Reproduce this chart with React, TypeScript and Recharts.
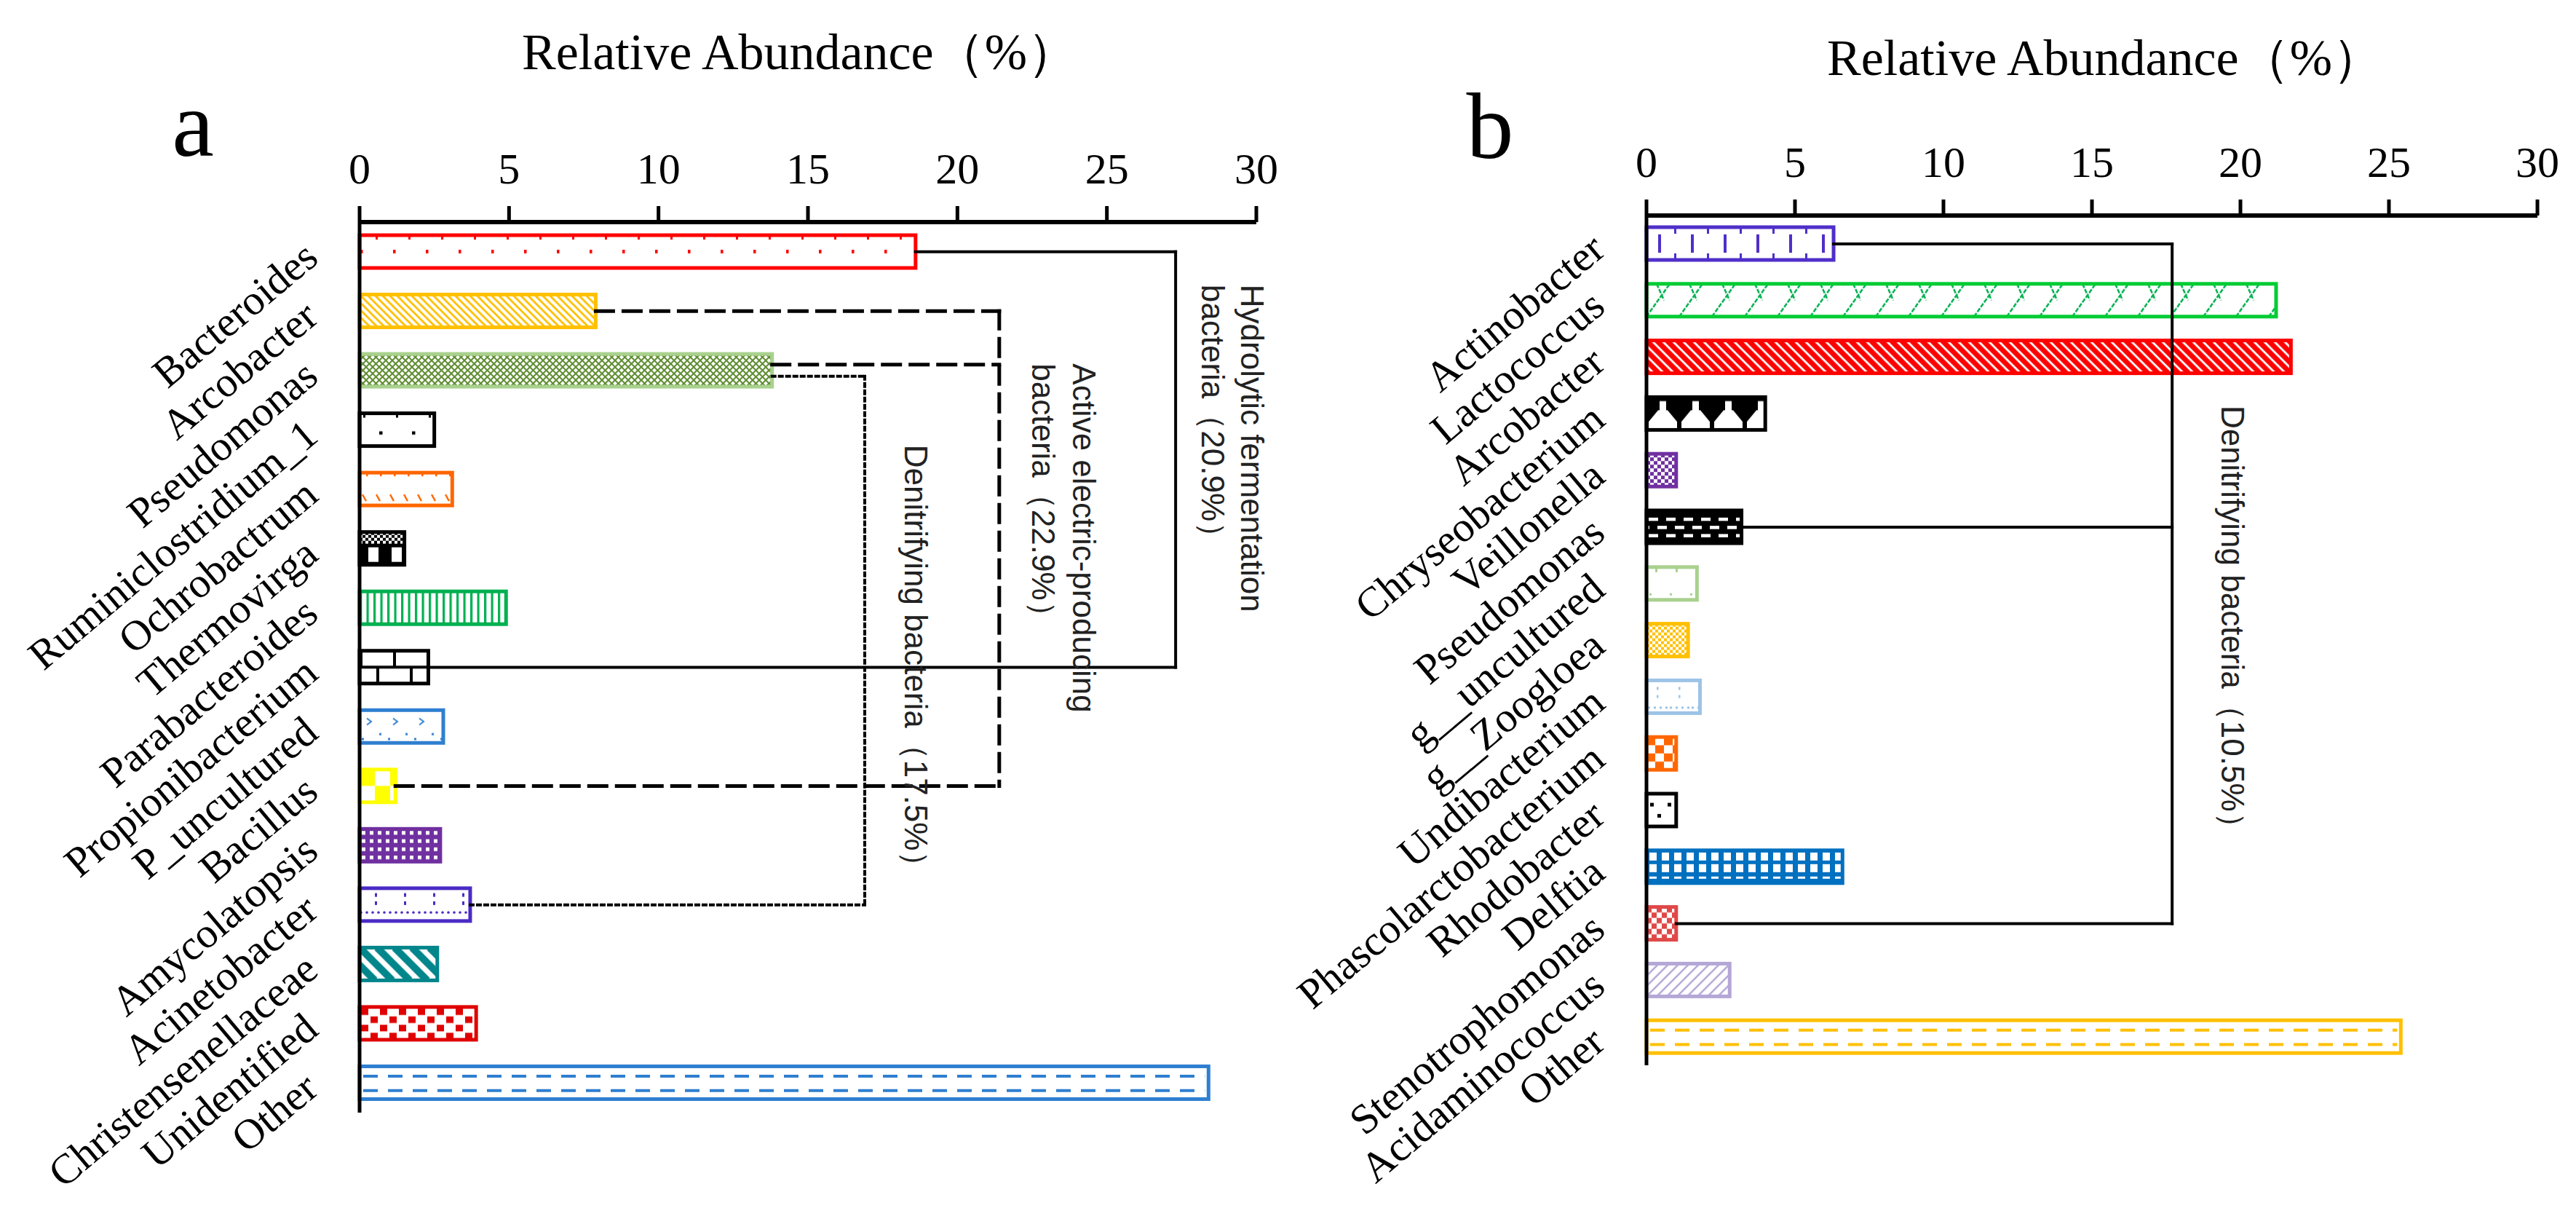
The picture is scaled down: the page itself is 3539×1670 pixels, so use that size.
import React from 'react';
import { BarChart, Bar, XAxis, YAxis, ReferenceLine } from 'recharts';

const SERIF = '"Liberation Serif", "Times New Roman", serif';
const SANS = '"Liberation Sans", Arial, sans-serif';

// relative abundance axis (%)
const ticks = [0, 5, 10, 15, 20, 25, 30];

// panel a
const generaA = [
  'Bacteroides', 'Arcobacter', 'Pseudomonas', 'Ruminiclostridium_1', 'Ochrobactrum',
  'Thermovirga', 'Parabacteroides', 'Propionibacterium', 'P_uncultured', 'Bacillus',
  'Amycolatopsis', 'Acinetobacter', 'Christensenellaceae', 'Unidentified', 'Other',
];
const abundanceA = [18.6, 7.9, 13.8, 2.5, 3.1, 1.5, 4.9, 2.3, 2.8, 1.2, 2.7, 3.7, 2.6, 3.9, 28.4];

// panel b
const generaB = [
  'Actinobacter', 'Lactococcus', 'Arcobacter', 'Chryseobacterium', 'Veillonella',
  'Pseudomonas', 'g__uncultured', 'g__Zoogloea', 'Undibacterium', 'Phascolarctobacterium',
  'Rhodobacter', 'Delftia', 'Stenotrophomonas', 'Acidaminococcus', 'Other',
];
const abundanceB = [6.3, 21.2, 21.7, 4.0, 1.0, 3.2, 1.7, 1.4, 1.8, 1.0, 1.0, 6.6, 1.0, 2.8, 25.4];

// functional groups, joined by a bracket at `at` (%)
type Group = { label: string[]; members: string[]; at: number };
const groupsA: Group[] = [
  { label: ['Hydrolytic fermentation', 'bacteria（20.9%）'], members: ['Bacteroides', 'Propionibacterium'], at: 27.3 },
  { label: ['Active electric-producing', 'bacteria（22.9%）'], members: ['Arcobacter', 'Pseudomonas', 'Bacillus'], at: 21.4 },
  { label: ['Denitrifying bacteria（17.5%）'], members: ['Pseudomonas', 'Acinetobacter'], at: 16.9 },
];
const groupsB: Group[] = [
  { label: ['Denitrifying bacteria（10.5%）'], members: ['Actinobacter', 'Pseudomonas', 'Stenotrophomonas'], at: 17.7 },
];

// bracket styling (line style + where the rotated caption sits)
type GroupLook = { dash?: string; sw: number; dx: number; dy: number; gap: number; shift: Record<string, number> };
const groupLooksA: GroupLook[] = [
  { sw: 4, dx: 90, dy: 45, gap: 54, shift: {} },
  { dash: '24 14', sw: 5, dx: 101, dy: 72, gap: 56, shift: { Pseudomonas: -8 } },
  { dash: '4 6', sw: 4, dx: 55, dy: 102, gap: 0, shift: { Pseudomonas: 8 } },
];
const groupLooksB: GroupLook[] = [{ sw: 4, dx: 68, dy: 222, gap: 0, shift: {} }];

// ---------- bar fill patterns ----------
type Look = {
  stroke: string;
  w: number;
  th?: number;
  tile?: (w: number, h: number) => React.ReactNode;
  overlay?: (x: number, y: number, w: number, h: number) => React.ReactNode;
};

const diag = (w: number, h: number, color: string, sw: number, dir: 1 | -1) => {
  const d: string[] = [];
  for (let k = -Math.ceil(h / w) - 1; k <= 1; k++) {
    const x0 = k * w;
    d.push(dir === 1 ? `M${x0},0 L${x0 + h},${h}` : `M${x0},${h} L${x0 + h},0`);
  }
  return <path d={d.join(' ')} stroke={color} strokeWidth={sw} fill="none" />;
};

const checker = (s: number, color: string, bg = '#fff') => (
  <>
    <rect x={0} y={0} width={2 * s} height={2 * s} fill={bg} />
    <rect x={0} y={0} width={s} height={s} fill={color} />
    <rect x={s} y={s} width={s} height={s} fill={color} />
  </>
);

const dashes = (color: string) => (x: number, y: number, w: number, h: number) => (
  <g stroke={color} strokeWidth={4} strokeDasharray="20 14">
    <line x1={x + 5} y1={y + h * 0.3} x2={x + w - 5} y2={y + h * 0.3} />
    <line x1={x + 5} y1={y + h * 0.74} x2={x + w - 5} y2={y + h * 0.74} />
  </g>
);

const thermo = (w: number, h: number) => {
  const cells: React.ReactNode[] = [];
  const top = 16;
  for (let i = 0; i < w / 4; i++)
    for (let j = 0; j < top / 4; j++)
      if ((i + j) % 2 === 0) cells.push(<rect key={`${i}-${j}`} x={i * 4} y={j * 4} width={4} height={4} fill="#000" />);
  return (
    <>
      {cells}
      <rect x={0} y={top} width={w} height={h - top} fill="#000" />
      <rect x={12} y={top + 5} width={14} height={h - top - 9} fill="#fff" />
    </>
  );
};

const looksA: Look[] = [
  { stroke: '#FF0000', w: 45, tile: (w, h) => (<g fill="#FF0000"><rect x={22} y={0} width={3} height={6} /><rect x={1} y={h / 2 - 2.5} width={3.5} height={5} /></g>) },
  { stroke: '#FFC000', w: 10, tile: (w, h) => diag(w, h, '#FFC000', 3, 1) },
  { stroke: '#A9D18E', w: 9, th: 9, tile: () => <path d="M0,0 L9,9 M9,0 L0,9" stroke="#5E8C31" strokeWidth={2} /> },
  { stroke: '#000', w: 45, tile: (w, h) => (<g fill="#000"><rect x={5} y={0} width={3} height={6} /><rect x={27} y={h * 0.55} width={4.5} height={4.5} /></g>) },
  { stroke: '#FF6600', w: 19, tile: (w, h) => (<><rect x={9} y={0} width={2.5} height={5} fill="#FF6600" /><path d={`M4,${h - 15} L9,${h - 6}`} stroke="#FF6600" strokeWidth={2.5} /></>) },
  { stroke: '#000', w: 32, tile: thermo },
  { stroke: '#00B050', w: 9.5, tile: (w, h) => <rect x={0} y={0} width={3.2} height={h} fill="#00B050" /> },
  { stroke: '#000', w: 46, tile: (w, h) => <path d={`M0,${h / 2} L${w},${h / 2} M2,0 L2,${h / 2} M25,${h / 2} L25,${h}`} stroke="#000" strokeWidth={4} /> },
  { stroke: '#2F7FD0', w: 36, tile: (w, h) => (<><path d={`M10,${h * 0.25} L16,${h * 0.35} L10,${h * 0.45}`} stroke="#2F7FD0" strokeWidth={2} fill="none" /><rect x={27} y={h * 0.7} width={3} height={3} fill="#2F7FD0" /><rect x={3} y={h * 0.85} width={3} height={3} fill="#2F7FD0" /></>) },
  { stroke: '#FFFF00', w: 42, tile: (w, h) => (<g fill="#FFFF00"><rect x={0} y={0} width={21} height={h / 2} /><rect x={21} y={h / 2} width={21} height={h / 2} /></g>) },
  { stroke: '#7030A0', w: 11, th: 11.25, tile: (w, h) => (<><rect width={w} height={h} fill="#7030A0" /><rect x={3} y={3} width={5} height={5} fill="#fff" /></>) },
  { stroke: '#4A2BC4', w: 40, tile: (w, h) => (<g fill="#4A2BC4">{[2, 10, 18, 26, 34].map((cx) => <circle key={cx} cx={cx} cy={h * 0.74} r={1.8} />)}<rect x={21} y={h * 0.15} width={3} height={5} /><rect x={21} y={h * 0.4} width={3} height={5} /></g>) },
  { stroke: '#00868B', w: 24, tile: (w, h) => diag(w, h, '#00868B', 10, 1) },
  { stroke: '#E00000', w: 26, th: 22.5, tile: () => (<g fill="#E00000"><rect x={2} y={2} width={10} height={9} /><rect x={15} y={13} width={10} height={9} /></g>) },
  { stroke: '#2F7FD0', w: 10, overlay: dashes('#2F7FD0') },
];

const looksB: Look[] = [
  { stroke: '#4F2FC9', w: 45, tile: (w, h) => (<g fill="#4F2FC9"><rect x={16} y={h * 0.22} width={4} height={h * 0.56} /><rect x={38} y={0} width={3} height={h * 0.2} /><rect x={38} y={h * 0.8} width={3} height={h * 0.2} /></g>) },
  { stroke: '#00CC33', w: 45, tile: (w, h) => <path d={`M0,${h} L32,0 M45,${h} L77,0 M-45,${h} L-13,0 M14,0 L24,${h * 0.5} M59,0 L69,${h * 0.5}`} stroke="#00B050" strokeWidth={2.5} strokeDasharray="6 2" fill="none" /> },
  { stroke: '#FF0000', w: 14, tile: (w, h) => diag(w, h, '#FF0000', 7, 1) },
  { stroke: '#000', w: 45, tile: (w, h) => (<><rect width={w} height={h} fill="#000" /><path d={`M3,${h} L3,${h * 0.75} L16,${h * 0.4} L18,${h * 0.4} L18,${h * 0.12} L27,${h * 0.12} L27,${h * 0.4} L29,${h * 0.4} L42,${h * 0.75} L42,${h} Z`} fill="#fff" /></>) },
  { stroke: '#7030A0', w: 10, th: 10, tile: () => checker(5, '#7030A0') },
  { stroke: '#000', w: 24, tile: (w, h) => (<><rect width={w} height={h} fill="#000" /><g fill="#fff"><rect x={3} y={h * 0.22} width={13} height={4.5} /><rect x={15} y={h * 0.47} width={9} height={4.5} /><rect x={0} y={h * 0.47} width={4} height={4.5} /><rect x={3} y={h * 0.72} width={13} height={4.5} /></g></>) },
  { stroke: '#A9D18E', w: 28, tile: (w, h) => (<g fill="#A9D18E"><rect x={12} y={2} width={3} height={5} /><rect x={4} y={h - 9} width={3} height={3} /></g>) },
  { stroke: '#FFC000', w: 8, th: 8, tile: () => checker(4, '#fff', '#FFC000') },
  { stroke: '#9DC3E6', w: 30, tile: (w, h) => (<g fill="#9DC3E6"><rect x={14} y={h * 0.2} width={2.5} height={4} /><rect x={14} y={h * 0.45} width={2.5} height={4} /><rect x={2} y={h * 0.8} width={3} height={3} /><rect x={10} y={h * 0.8} width={3} height={3} /><rect x={18} y={h * 0.8} width={3} height={3} /><rect x={26} y={h * 0.8} width={3} height={3} /></g>) },
  { stroke: '#FF6600', w: 24, th: 22.5, tile: () => (<><rect width={24} height={22.5} fill="#FF6600" /><rect x={12} y={0} width={12} height={11.25} fill="#fff" /><rect x={0} y={11.25} width={12} height={11.25} fill="#fff" /></>) },
  { stroke: '#000', w: 24, tile: (w, h) => (<g fill="#000"><rect x={5} y={h * 0.28} width={5} height={5} /><rect x={15} y={h * 0.62} width={5} height={5} /></g>) },
  { stroke: '#0070C0', w: 17, tile: (w, h) => (<><rect width={w} height={h} fill="#0070C0" /><g fill="#fff"><rect x={4} y={3} width={10} height={11} /><rect x={4} y={19} width={10} height={11} /><rect x={4} y={36} width={10} height={3} /></g></>) },
  { stroke: '#E04848', w: 14, th: 15, tile: () => (<><rect x={0} y={0} width={7} height={7.5} fill="#E04848" /><rect x={7} y={7.5} width={7} height={7.5} fill="#E04848" /></>) },
  { stroke: '#B4A7D6', w: 14, tile: (w, h) => diag(w, h, '#B4A7D6', 2.5, -1) },
  { stroke: '#FFC000', w: 10, overlay: dashes('#FFC000') },
];

const makeShape = (id: string, looks: Look[], names: string[]) => (props: any) => {
  const { x, y, width, height } = props;
  const index = typeof props.index === 'number' ? props.index : names.indexOf(props.payload?.name ?? props.name);
  const lk = looks[index];
  if (!lk || !(width > 0)) return <g />;
  const th = lk.th ?? height;
  const pid = `${id}-p${index}`;
  return (
    <g>
      {lk.tile && (
        <defs>
          <pattern id={pid} patternUnits="userSpaceOnUse" x={x} y={y} width={lk.w} height={th}>
            {lk.tile(lk.w, th)}
          </pattern>
        </defs>
      )}
      <rect x={x} y={y} width={width} height={height} fill={lk.tile ? `url(#${pid})` : '#fff'} />
      {lk.overlay && lk.overlay(x, y, width, height)}
      <rect x={x} y={y} width={width} height={height} fill="none" stroke={lk.stroke} strokeWidth={5} />
    </g>
  );
};

const CatTick = (props: any) => {
  const { x, y, payload } = props;
  const tx = x - 54;
  const ty = y + 13;
  return (
    <text x={tx} y={ty} transform={`rotate(-40, ${tx}, ${ty})`} textAnchor="end" fontFamily={SERIF} fontSize={58} fill="#000">
      {payload.value}
    </text>
  );
};

const Seg = (p: any) => (
  <line x1={p.x1} y1={p.y1 + (p.dy1 || 0)} x2={p.x2} y2={p.y2 + (p.dy2 || 0)} stroke="#000" strokeWidth={p.sw} strokeDasharray={p.dash} strokeLinecap="square" />
);

const GroupCaption = ({ viewBox, lines, lk }: any) => {
  if (!viewBox) return null;
  const x0 = viewBox.x + lk.dx;
  const y0 = viewBox.y + lk.dy;
  return (
    <text transform={`translate(${x0},${y0}) rotate(90)`} fontFamily={SANS} fontSize={44} fill="#222">
      {lines.map((l: string, i: number) => (
        <tspan key={i} x={0} y={i * lk.gap}>{l}</tspan>
      ))}
    </text>
  );
};

const brackets = (groups: Group[], looks: GroupLook[], data: { name: string; value: number }[]) => {
  const out: React.ReactNode[] = [];
  groups.forEach((g, gi) => {
    const lk = looks[gi];
    const val = (n: string) => data.find((d) => d.name === n)!.value;
    g.members.forEach((m, mi) => {
      const s = lk.shift[m] || 0;
      out.push(
        <ReferenceLine
          key={`h${gi}-${mi}`}
          segment={[{ x: val(m), y: m }, { x: g.at, y: m }]}
          ifOverflow="visible"
          shape={(p: any) => <Seg {...p} dy1={s} dy2={s} sw={lk.sw} dash={lk.dash} />}
        />
      );
    });
    const first = g.members[0];
    const last = g.members[g.members.length - 1];
    out.push(
      <ReferenceLine
        key={`v${gi}`}
        segment={[{ x: g.at, y: first }, { x: g.at, y: last }]}
        ifOverflow="visible"
        shape={(p: any) => <Seg {...p} dy1={lk.shift[first] || 0} dy2={lk.shift[last] || 0} sw={lk.sw} dash={lk.dash} />}
        label={(p: any) => <GroupCaption viewBox={p.viewBox} lines={g.label} lk={lk} />}
      />
    );
  });
  return out;
};

type PanelProps = {
  id: string;
  names: string[];
  values: number[];
  looks: Look[];
  groups: Group[];
  groupLooks: GroupLook[];
  width: number;
  height: number;
  margin: { top: number; right: number; bottom: number; left: number };
};

const Panel = ({ id, names, values, looks, groups, groupLooks, width, height, margin }: PanelProps) => {
  const data = names.map((name, i) => ({ name, value: values[i] }));
  return (
    <BarChart layout="vertical" width={width} height={height} data={data} margin={margin} barCategoryGap={0}>
      <XAxis
        type="number"
        domain={[0, 30]}
        ticks={ticks}
        interval={0}
        orientation="top"
        height={80}
        axisLine={{ stroke: '#000', strokeWidth: 6 }}
        tickLine={{ stroke: '#000', strokeWidth: 5 }}
        tickSize={22}
        tickMargin={31}
        tick={{ fontSize: 60, fill: '#000', fontFamily: SERIF }}
      />
      <YAxis
        type="category"
        dataKey="name"
        width={60}
        interval={0}
        axisLine={{ stroke: '#000', strokeWidth: 5 }}
        tickLine={false}
        tickSize={0}
        tickMargin={0}
        tick={<CatTick />}
      />
      <Bar dataKey="value" barSize={45} isAnimationActive={false} shape={makeShape(id, looks, names)} />
      {brackets(groups, groupLooks, data)}
    </BarChart>
  );
};

export default function App() {
  return (
    <div style={{ position: 'absolute', left: 0, top: 0, width: 3539, height: 1670, background: '#fff', overflow: 'hidden' }}>
      <svg width={3539} height={1670} style={{ position: 'absolute', left: 0, top: 0 }}>
        <text x={717} y={95} fontFamily={SERIF} fontSize={70} fill="#000">Relative Abundance（%）</text>
        <text x={2510} y={103} fontFamily={SERIF} fontSize={70} fill="#000">Relative Abundance（%）</text>
        <text x={265} y={214} textAnchor="middle" fontFamily={SERIF} fontSize={130} fill="#000">a</text>
        <text x={2047} y={217} textAnchor="middle" fontFamily={SERIF} fontSize={130} fill="#000">b</text>
      </svg>
      <div style={{ position: 'absolute', left: 0, top: 0 }}>
        <Panel
          id="pa"
          names={generaA}
          values={abundanceA}
          looks={looksA}
          groups={groupsA}
          groupLooks={groupLooksA}
          width={1800}
          height={1670}
          margin={{ top: 225, right: 74, bottom: 142, left: 434 }}
        />
      </div>
      <div style={{ position: 'absolute', left: 1740, top: 0 }}>
        <Panel
          id="pb"
          names={generaB}
          values={abundanceB}
          looks={looksB}
          groups={groupsB}
          groupLooks={groupLooksB}
          width={1799}
          height={1670}
          margin={{ top: 216, right: 53, bottom: 207, left: 462 }}
        />
      </div>
    </div>
  );
}
